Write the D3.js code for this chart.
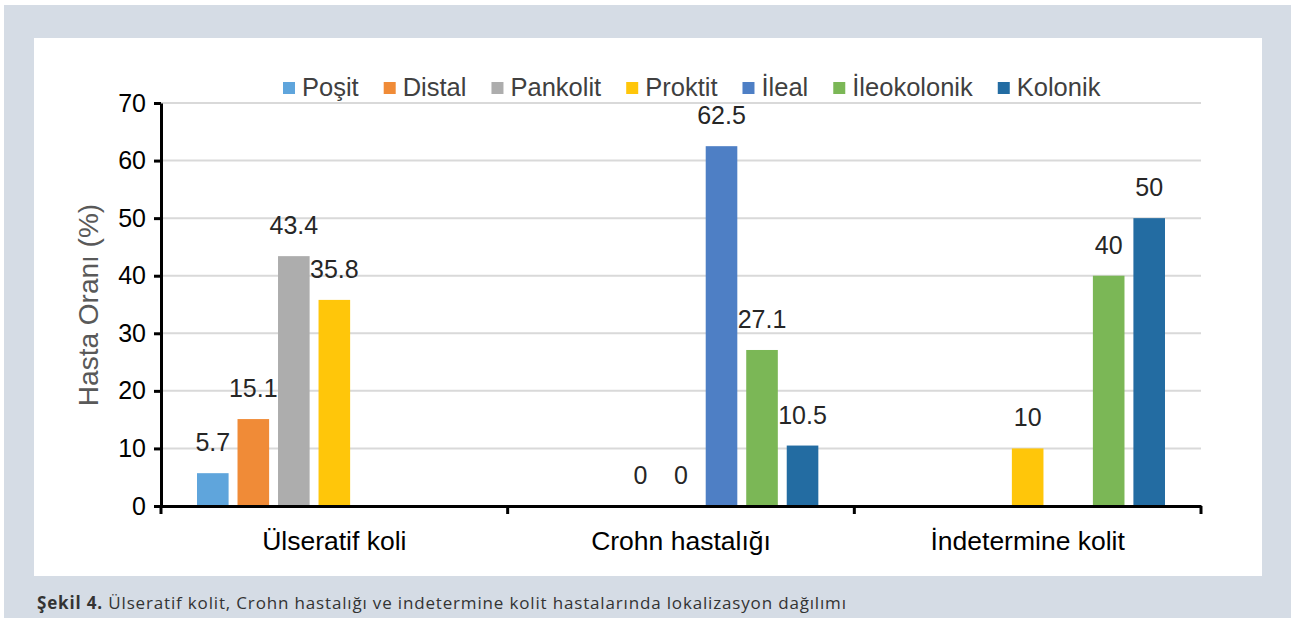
<!DOCTYPE html>
<html>
<head>
<meta charset="utf-8">
<script src="https://cdn.jsdelivr.net/npm/d3@7"></script>
<style>
  body { margin: 0; background: #fff; }
  svg { display: block; }
  .tick text { font-family: "Liberation Sans", Arial, sans-serif; }
</style>
</head>
<body>
<div id="chart"></div>
<script>
// data
var categories = ["Ülseratif koli", "Crohn hastalığı", "İndetermine kolit"];
var seriesNames = ["Poşit", "Distal", "Pankolit", "Proktit", "İleal", "İleokolonik", "Kolonik"];
var seriesColors = ["#5fa5dc", "#f08b37", "#adadad", "#ffc60a", "#4e7fc5", "#7bb756", "#236ca2"];
// values per category, in series order (null = no bar, no label)
var ulseratifValues = [5.7, 15.1, 43.4, 35.8, null, null, null];
var crohnValues = [null, null, 0, 0, 62.5, 27.1, 10.5];
var indetermineValues = [null, null, null, 10, null, 40, 50];
var yTicks = [0, 10, 20, 30, 40, 50, 60, 70];

var allValues = [ulseratifValues, crohnValues, indetermineValues];

var width = 1291;
var height = 618;
var fontFam = "'Liberation Sans', Arial, Helvetica, sans-serif";

var svg = d3.select("#chart")
    .append("svg")
    .attr("width", width)
    .attr("height", height);

// page background + white panel
svg.append("rect")
    .attr("x", 4).attr("y", 5)
    .attr("width", width - 4).attr("height", height - 5)
    .attr("fill", "#d5dce5");

svg.append("rect")
    .attr("x", 34).attr("y", 38)
    .attr("width", 1228).attr("height", 538)
    .attr("fill", "#ffffff");

var plotLeft = 161, plotRight = 1201, plotTop = 103, plotBottom = 506;

var x0 = d3.scaleBand()
    .domain(categories)
    .range([plotLeft, plotRight]);

var x1 = d3.scaleBand()
    .domain(seriesNames)
    .range([36, x0.bandwidth() - 36])
    .paddingInner(0.22);

var y = d3.scaleLinear()
    .domain([0, 70])
    .range([plotBottom, plotTop]);

// gridlines
svg.append("g")
    .attr("class", "grid")
    .selectAll("line")
    .data(yTicks.slice(1))
    .enter()
    .append("line")
    .attr("x1", plotLeft).attr("x2", plotRight)
    .attr("y1", function (d) { return y(d); })
    .attr("y2", function (d) { return y(d); })
    .attr("stroke", "#d9d9d9")
    .attr("stroke-width", 2);

// bars
var groups = svg.selectAll("g.cat")
    .data(categories)
    .enter()
    .append("g")
    .attr("class", "cat")
    .attr("transform", function (d) { return "translate(" + x0(d) + ",0)"; });

groups.each(function (cat, ci) {
    var g = d3.select(this);
    var rows = seriesNames.map(function (s, si) {
        return { name: s, value: allValues[ci][si], color: seriesColors[si] };
    }).filter(function (r) { return r.value !== null; });

    g.selectAll("rect")
        .data(rows.filter(function (r) { return r.value > 0; }))
        .enter()
        .append("rect")
        .attr("x", function (r) { return x1(r.name); })
        .attr("y", function (r) { return y(r.value); })
        .attr("width", x1.bandwidth())
        .attr("height", function (r) { return y(0) - y(r.value); })
        .attr("fill", function (r) { return r.color; });

    g.selectAll("text.val")
        .data(rows)
        .enter()
        .append("text")
        .attr("class", "val")
        .attr("x", function (r) { return x1(r.name) + x1.bandwidth() / 2; })
        .attr("y", function (r) { return y(r.value) - 22; })
        .attr("text-anchor", "middle")
        .style("font-family", fontFam)
        .style("font-size", "25px")
        .style("fill", "#262626")
        .text(function (r) { return r.value; });
});

// y axis
var yAxis = d3.axisLeft(y)
    .tickValues(yTicks)
    .tickSize(7)
    .tickPadding(8)
    .tickSizeOuter(0);

var gy = svg.append("g")
    .attr("transform", "translate(" + plotLeft + ",0)")
    .call(yAxis);
gy.select(".domain").attr("stroke", "#000").attr("stroke-width", 3);
gy.selectAll(".tick line").attr("stroke", "#000").attr("stroke-width", 3);
gy.selectAll(".tick text")
    .style("font-size", "25px")
    .style("fill", "#000");

// x axis
var xAxis = d3.axisBottom(x0)
    .tickValues([])
    .tickSizeOuter(0);
var gx = svg.append("g")
    .attr("transform", "translate(0," + plotBottom + ")")
    .call(xAxis);
gx.select(".domain").attr("stroke", "#000").attr("stroke-width", 3);

// category boundary ticks
var bounds = categories.map(function (c) { return x0(c); }).concat([plotRight]);
gx.selectAll("line.sep")
    .data(bounds)
    .enter()
    .append("line")
    .attr("class", "sep")
    .attr("x1", function (d) { return d; })
    .attr("x2", function (d) { return d; })
    .attr("y1", 0).attr("y2", 8)
    .attr("stroke", "#000")
    .attr("stroke-width", 3);

gx.selectAll("text.cat")
    .data(categories)
    .enter()
    .append("text")
    .attr("class", "cat")
    .attr("x", function (d) { return x0(d) + x0.bandwidth() / 2; })
    .attr("y", 44)
    .attr("text-anchor", "middle")
    .style("font-family", fontFam)
    .style("font-size", "26.5px")
    .style("fill", "#000")
    .text(function (d) { return d; });

// y title
svg.append("text")
    .attr("transform", "translate(98,305)rotate(-90)")
    .attr("text-anchor", "middle")
    .style("font-family", fontFam)
    .style("font-size", "28px")
    .style("fill", "#595959")
    .text("Hasta Oranı (%)");

// legend
var legend = svg.append("g").attr("class", "legend");
var lx = 283;
seriesNames.forEach(function (s, i) {
    legend.append("rect")
        .attr("x", lx).attr("y", 82)
        .attr("width", 12).attr("height", 12)
        .attr("fill", seriesColors[i]);
    var t = legend.append("text")
        .attr("x", lx + 19).attr("y", 96)
        .style("font-family", fontFam)
        .style("font-size", "25.5px")
        .style("fill", "#404040")
        .text(s);
    lx = lx + 19 + t.node().getComputedTextLength() + 25;
});

// caption
var cap = svg.append("text")
    .attr("x", 37).attr("y", 609)
    .attr("textLength", 809)
    .attr("lengthAdjust", "spacing")
    .style("font-family", "'Open Sans', 'Noto Sans', sans-serif")
    .style("font-size", "17px")
    .style("fill", "#333");
cap.append("tspan").style("font-weight", "bold").text("Şekil 4.");
cap.append("tspan").text(" Ülseratif kolit, Crohn hastalığı ve indetermine kolit hastalarında lokalizasyon dağılımı");
</script>
</body>
</html>
